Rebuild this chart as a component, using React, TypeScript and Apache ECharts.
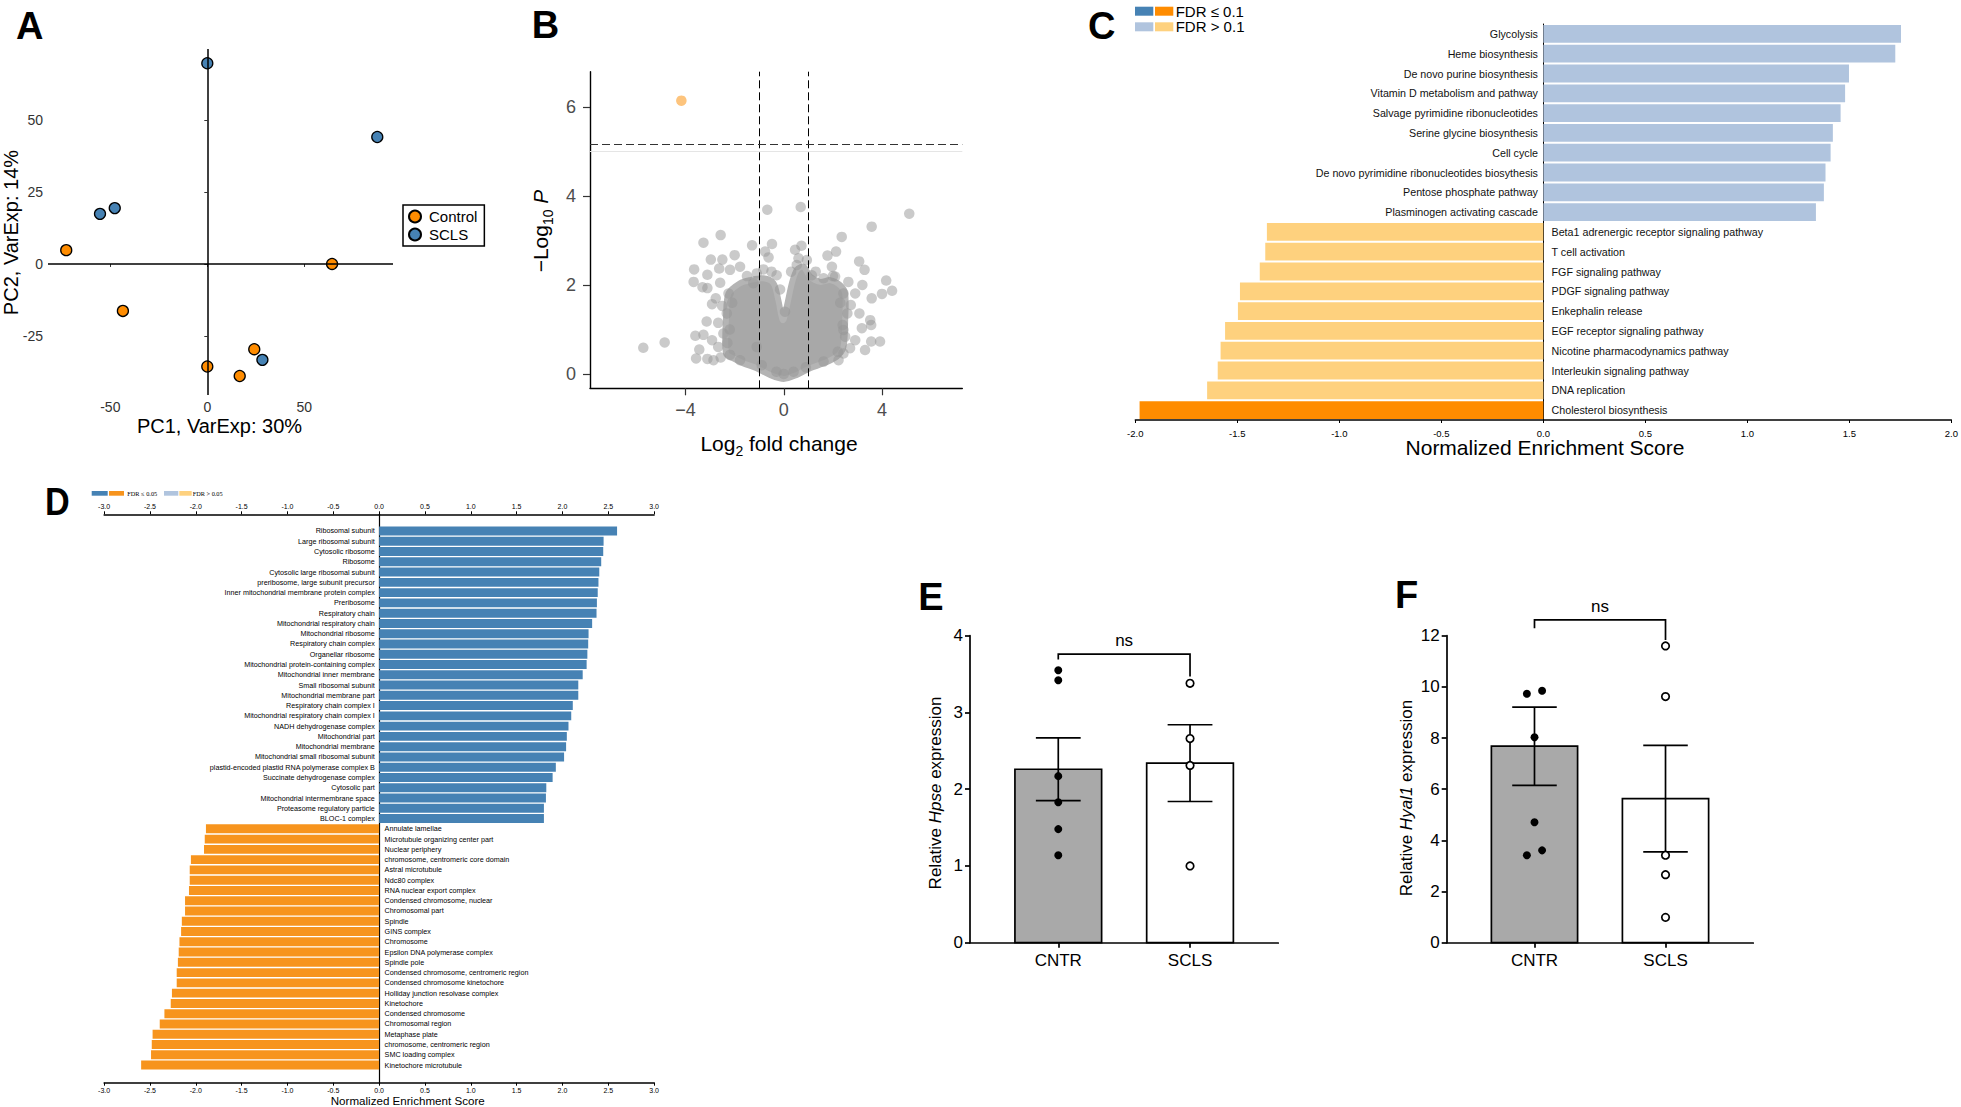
import React, { useEffect, useRef } from "react";
import * as echarts from "echarts";

const FONT = "'Liberation Sans', Arial, Helvetica, sans-serif";
const SERIF = "'Liberation Serif', 'Times New Roman', serif";

// ---------- Panel A : PCA ----------
const pcaControlX = [-72.7, 64.3, -43.5, 0, 16.7, 24.2];
const pcaControlY = [4.8, 0, -16.3, -35.6, -38.9, -29.6];
const pcaSclsX = [0, 87.6, -55.3, -47.7, 28.4];
const pcaSclsY = [69.7, 44.1, 17.4, 19.4, -33.3];
const pcaXTicks = [-50, 0, 50];
const pcaYTicks = [-25, 0, 25, 50];

// ---------- Panel B : volcano ----------
const volcanoX = [
  -5.72, -4.85, -3.27, -2.57, -3.65, -3.67, -2.97, -2.5, -3.11, -3.31, -3.11, -2.92, -3.14, -3.6, -3.27,
  -3.57, -3.11, -3.44, -2.92, -2.67, -2.57, -2.86, -2.63, -2.19, -2.0, -1.78, -2.59, -2.77, -2.51, -2.67,
  -2.46, -1.29, -0.48, -0.67, -0.76, -0.62, -0.83, -0.29, -1.1, -1.24, 0.69, 0.72, 0.46, 0.94, 0.53,
  1.14, 1.62, 1.78, 2.13, 2.36, 1.96, 2.09, 2.63, 2.43, 2.91, 3.07, 3.29, 3.58, 5.11, 4.17,
  4.0, 4.41, 3.58, 3.2, 3.08, 3.52, 3.18, 3.56, 3.92, 3.56, 3.31, 2.91, 2.7, 2.43, 2.23,
  1.62, 2.59, 2.73, 2.43, 2.5, -1.78, -2.19, -2.32, -2.25, -1.1, -2.2, -2.3, -2.1, -1.5, -0.5,
  -0.15, 0.05, 0.3, 0.6, 1.3, 2.0, 2.3, 2.4, 2.2, -0.9, 0.9, 0.0, -0.3, 0.4,
];
const volcanoY = [
  0.59, 0.71, 2.95, 3.12, 2.35, 2.07, 2.57, 2.57, 2.23, 1.95, 1.93, 1.57, 1.18, 0.86, 0.88,
  0.35, 0.34, 0.55, 0.76, 0.61, 0.37, 0.31, 2.37, 2.34, 2.67, 2.41, 2.05, 1.7, 1.53, 1.15,
  0.91, 2.89, 2.92, 3.69, 2.75, 2.62, 2.35, 2.22, 2.26, 2.04, 3.75, 2.88, 2.79, 2.56, 2.45,
  2.22, 2.15, 2.66, 2.75, 3.08, 2.41, 2.19, 2.07, 1.81, 1.81, 2.53, 2.34, 3.31, 3.6, 2.1,
  1.8, 1.87, 1.7, 2.0, 1.36, 1.21, 1.03, 1.1, 0.73, 0.73, 0.54, 0.76, 0.58, 0.46, 0.31,
  0.28, 1.36, 1.55, 0.99, 0.84, 0.31, 0.43, 1.36, 1.81, 0.61, 1.0, 0.7, 1.6, 2.2, 2.3,
  1.9, 1.4, 2.3, 2.6, 2.3, 2.2, 1.6, 1.1, 0.5, 0.2, 0.15, 0.0, 0.05, 0.05,
];
const volcanoCoreX = [
  -2.35, -2.35, -2.25, -1.78, -1.37, -0.83, -0.42, -0.22, -0.04, 0.12, 0.33, 0.53, 0.8, 1.07, 1.48,
  1.89, 2.29, 2.5, 2.5, 2.43, 2.16, 1.62, 1.07, 0.53, 0, -0.56, -1.1, -1.64, -2.05,
];
const volcanoCoreY = [
  0.46, 1.29, 1.81, 2.04, 2.11, 2.15, 2.04, 1.66, 1.21, 1.51, 2.04, 2.34, 2.41, 2.19, 2.07,
  2.11, 2.0, 1.81, 1.21, 0.61, 0.39, 0.24, 0.13, -0.02, -0.11, -0.02, 0.13, 0.24, 0.35,
];
const volcanoSigX = [-4.17];
const volcanoSigY = [6.14];
const volcanoXTicks = [-4, 0, 4];
const volcanoYTicks = [0, 2, 4, 6];
const foldCutoffs = [-1, 1];
const pCutoff = 5.15;
const pGuide = 5;

// ---------- Panel C : pathway NES ----------
const cNames = [
  "Glycolysis",
  "Heme biosynthesis",
  "De novo purine biosynthesis",
  "Vitamin D metabolism and pathway",
  "Salvage pyrimidine ribonucleotides",
  "Serine glycine biosynthesis",
  "Cell cycle",
  "De novo pyrimidine ribonucleotides biosythesis",
  "Pentose phosphate pathway",
  "Plasminogen activating cascade",
  "Beta1 adrenergic receptor signaling pathway",
  "T cell activation",
  "FGF signaling pathway",
  "PDGF signaling pathway",
  "Enkephalin release",
  "EGF receptor signaling pathway",
  "Nicotine pharmacodynamics pathway",
  "Interleukin signaling pathway",
  "DNA replication",
  "Cholesterol biosynthesis",
];
const cValues = [
  1.753, 1.725, 1.498, 1.479, 1.457, 1.419, 1.408, 1.383, 1.375, 1.336,
  -1.355, -1.363, -1.39, -1.487, -1.497, -1.56, -1.582, -1.596, -1.648, -1.979,
];
const cSignificant = [
  false, false, false, false, false, false, false, false, false, false,
  false, false, false, false, false, false, false, false, false, true,
];

// ---------- Panel D : GO NES ----------
const dNames = [
  "Ribosomal subunit",
  "Large ribosomal subunit",
  "Cytosolic ribosome",
  "Ribosome",
  "Cytosolic large ribosomal subunit",
  "preribosome, large subunit precursor",
  "Inner mitochondrial membrane protein complex",
  "Preribosome",
  "Respiratory chain",
  "Mitochondrial respiratory chain",
  "Mitochondrial ribosome",
  "Respiratory chain complex",
  "Organellar ribosome",
  "Mitochondrial protein-containing complex",
  "Mitochondrial inner membrane",
  "Small ribosomal subunit",
  "Mitochondrial membrane part",
  "Respiratory chain complex I",
  "Mitochondrial respiratory chain complex I",
  "NADH dehydrogenase complex",
  "Mitochondrial part",
  "Mitochondrial membrane",
  "Mitochondrial small ribosomal subunit",
  "plastid-encoded plastid RNA polymerase complex B",
  "Succinate dehydrogenase complex",
  "Cytosolic part",
  "Mitochondrial intermembrane space",
  "Proteasome regulatory particle",
  "BLOC-1 complex",
  "Annulate lamellae",
  "Microtubule organizing center part",
  "Nuclear periphery",
  "chromosome, centromeric core domain",
  "Astral microtubule",
  "Ndc80 complex",
  "RNA nuclear export complex",
  "Condensed chromosome, nuclear",
  "Chromosomal part",
  "Spindle",
  "GINS complex",
  "Chromosome",
  "Epsilon DNA polymerase complex",
  "Spindle pole",
  "Condensed chromosome, centromeric region",
  "Condensed chromosome kinetochore",
  "Holliday junction resolvase complex",
  "Kinetochore",
  "Condensed chromosome",
  "Chromosomal region",
  "Metaphase plate",
  "chromosome, centromeric region",
  "SMC loading complex",
  "Kinetochore microtubule",
];
const dValues = [
  2.596, 2.449, 2.445, 2.423, 2.402, 2.393, 2.385, 2.376, 2.372, 2.324, 2.285, 2.281, 2.272, 2.264,
  2.221, 2.173, 2.173, 2.113, 2.096, 2.066, 2.048, 2.04, 2.018, 1.928, 1.893, 1.824, 1.82, 1.798,
  1.798, -1.889, -1.902, -1.91, -2.053, -2.066, -2.066, -2.074, -2.117, -2.117, -2.152, -2.16,
  -2.178, -2.186, -2.195, -2.208, -2.208, -2.26, -2.273, -2.342, -2.393, -2.471, -2.48, -2.488, -2.596,
];

// ---------- Panels E / F : qPCR ----------
const groups = ["CNTR", "SCLS"];
const hpseMean = [2.26, 2.34];
const hpseSem = [0.41, 0.5];
const hpseCntr = [3.55, 3.42, 2.17, 1.83, 1.48, 1.14];
const hpseCntrJitter = [0, 0, 0, 0, 0, 0];
const hpseScls = [3.38, 2.66, 2.31, 1.0];
const hpseBracketX = [0, 0, 1, 1];
const hpseBracketY = [3.69, 3.76, 3.76, 3.47];
const hpseNsY = 3.94;

const hyalMean = [7.68, 5.63];
const hyalSem = [1.53, 2.08];
const hyalCntr = [9.73, 9.85, 8.03, 4.71, 3.42, 3.61];
const hyalCntrJitter = [-0.058, 0.058, 0, 0, -0.058, 0.058];
const hyalScls = [11.6, 9.62, 3.42, 2.66, 0.99];
const hyalBracketX = [0, 0, 1, 1];
const hyalBracketY = [12.29, 12.62, 12.62, 11.83];
const hyalNsY = 13.13;

// ---------- colours ----------
const BLUE = "#4682B4";
const LIGHT_BLUE = "#B0C4DE";
const ORANGE = "#FF8C00";
const LIGHT_ORANGE = "#FED17E";
const D_ORANGE = "#F7941D";

const minusFmt = (v: number) => (v < 0 ? "\u2212" + Math.abs(v) : String(v));

function qpcrSeries(xi: number, yi: number, mean: number[], sem: number[], cntr: number[], cntrJ: number[], scls: number[], bx: number[], by: number[], nsY: number) {
  return [
    {
      type: "custom",
      xAxisIndex: xi,
      yAxisIndex: yi,
      z: 2,
      data: mean.map((m, i) => [i, m]),
      renderItem: (params: any, api: any) => {
        const i = api.value(0);
        const m = api.value(1);
        const base = api.coord([i, 0]);
        const top = api.coord([i, m]);
        const w = api.size([0.658, 0])[0];
        return {
          type: "rect",
          shape: { x: base[0] - w / 2, y: top[1], width: w, height: base[1] - top[1] },
          style: { fill: i === 0 ? "#A9A9A9" : "#FFFFFF", stroke: "#000", lineWidth: 1.7 },
        };
      },
    },
    {
      type: "custom",
      xAxisIndex: xi,
      yAxisIndex: yi,
      z: 3,
      data: mean.map((m, i) => [i, m, sem[i]]),
      renderItem: (params: any, api: any) => {
        const i = api.value(0);
        const m = api.value(1);
        const s = api.value(2);
        const hi = api.coord([i, m + s]);
        const lo = api.coord([i, m - s]);
        const hw = api.size([0.17, 0])[0];
        const st = { stroke: "#000", lineWidth: 1.7 };
        return {
          type: "group",
          children: [
            { type: "line", shape: { x1: hi[0], y1: hi[1], x2: lo[0], y2: lo[1] }, style: st },
            { type: "line", shape: { x1: hi[0] - hw, y1: hi[1], x2: hi[0] + hw, y2: hi[1] }, style: st },
            { type: "line", shape: { x1: lo[0] - hw, y1: lo[1], x2: lo[0] + hw, y2: lo[1] }, style: st },
          ],
        };
      },
    },
    {
      type: "scatter",
      xAxisIndex: xi,
      yAxisIndex: yi,
      z: 4,
      symbolSize: 8,
      itemStyle: { color: "#000", opacity: 1 },
      data: cntr.map((v, k) => [0 + cntrJ[k], v]),
    },
    {
      type: "scatter",
      xAxisIndex: xi,
      yAxisIndex: yi,
      z: 4,
      symbolSize: 7.5,
      itemStyle: { color: "#fff", borderColor: "#000", borderWidth: 1.7, opacity: 1 },
      data: scls.map((v) => [1, v]),
    },
    {
      type: "custom",
      xAxisIndex: xi,
      yAxisIndex: yi,
      z: 4,
      clip: false,
      data: [[0.5, nsY]],
      renderItem: (params: any, api: any) => {
        const pts = bx.map((x, k) => api.coord([x, by[k]]));
        const c = api.coord([api.value(0), api.value(1)]);
        return {
          type: "group",
          children: [
            { type: "polyline", shape: { points: pts }, style: { stroke: "#000", lineWidth: 1.7, fill: null } },
            {
              type: "text",
              x: c[0],
              y: c[1],
              style: { text: "ns", fontSize: 17, fontFamily: FONT, fill: "#000", align: "center", verticalAlign: "middle" },
            },
          ],
        };
      },
    },
  ];
}

function qpcrAxes(gi: number, ymax: number, step: number) {
  const x = {
    gridIndex: gi,
    type: "value",
    min: -0.67,
    max: 1.67,
    axisLine: { show: true, onZero: false, lineStyle: { color: "#000", width: 1.7 } },
    axisTick: { show: true, length: 5, customValues: [0, 1], lineStyle: { color: "#000", width: 1.7 } },
    axisLabel: {
      customValues: [0, 1],
      formatter: (v: number) => groups[Math.round(v)],
      fontSize: 17,
      fontFamily: FONT,
      color: "#000",
      margin: 9,
    },
    splitLine: { show: false },
  };
  const y = {
    gridIndex: gi,
    type: "value",
    min: 0,
    max: ymax,
    interval: step,
    axisLine: { show: true, onZero: false, lineStyle: { color: "#000", width: 1.7 } },
    axisTick: { show: true, length: 5, lineStyle: { color: "#000", width: 1.7 } },
    axisLabel: { fontSize: 17, fontFamily: FONT, color: "#000", margin: 7 },
    splitLine: { show: false },
  };
  return { x, y };
}

function buildOption() {
  const eAx = qpcrAxes(4, 4, 1);
  const fAx = qpcrAxes(5, 12, 2);
  const dAxisCommon = {
    gridIndex: 3,
    type: "value",
    min: -3,
    max: 3,
    interval: 0.5,
    axisLine: { show: true, onZero: false, lineStyle: { color: "#000", width: 1.5 } },
    axisTick: { show: true, length: 3, lineStyle: { color: "#000" } },
    axisLabel: { fontSize: 7, fontFamily: FONT, color: "#000", margin: 4, formatter: (v: number) => v.toFixed(1) },
    splitLine: { show: false },
  };

  const graphic: any[] = [];
  const letter = (t: string, x: number, y: number, sx = 1) =>
    graphic.push({
      type: "text",
      x,
      y,
      scaleX: sx,
      silent: true,
      style: { text: t, fontSize: 38, fontWeight: "bold", fontFamily: FONT, fill: "#000", align: "left", verticalAlign: "middle" },
    });
  letter("A", 16, 25.5);
  letter("B", 531.7, 25);
  letter("C", 1088, 25.5);
  letter("D", 45, 502, 0.9);
  letter("E", 918.3, 596.7);
  letter("F", 1395, 595);

  // Panel A titles
  graphic.push({
    type: "text", x: 219.5, y: 426, silent: true,
    style: { text: "PC1, VarExp: 30%", fontSize: 20, fontFamily: FONT, fill: "#000", align: "center", verticalAlign: "middle" },
  });
  graphic.push({
    type: "text", x: 11, y: 232.5, rotation: Math.PI / 2, silent: true,
    style: { text: "PC2, VarExp: 14%", fontSize: 20, fontFamily: FONT, fill: "#000", align: "center", verticalAlign: "middle" },
  });

  // Panel B titles
  graphic.push({
    type: "text", x: 779, y: 443, silent: true,
    style: {
      text: "{a|Log}{s|2}{a| fold change}",
      align: "center",
      verticalAlign: "middle",
      rich: {
        a: { fontSize: 21, lineHeight: 30, fontFamily: FONT, fill: "#000" },
        s: { fontSize: 14, lineHeight: 14, fontFamily: FONT, fill: "#000", verticalAlign: "bottom" },
      },
    },
  });
  graphic.push({
    type: "text", x: 540, y: 231, rotation: Math.PI / 2, silent: true,
    style: {
      text: "{a|\u2212Log}{s|10}{a| }{i|P}",
      align: "center",
      verticalAlign: "middle",
      rich: {
        a: { fontSize: 21, lineHeight: 30, fontFamily: FONT, fill: "#000" },
        i: { fontSize: 21, lineHeight: 30, fontFamily: FONT, fill: "#000", fontStyle: "italic" },
        s: { fontSize: 14, lineHeight: 14, fontFamily: FONT, fill: "#000", verticalAlign: "bottom" },
      },
    },
  });

  // Panel C legend + title
  const rect = (x: number, y: number, w: number, h: number, fill: string) =>
    graphic.push({ type: "rect", silent: true, shape: { x, y, width: w, height: h }, style: { fill } });
  rect(1135, 6.7, 18.3, 9, BLUE);
  rect(1155, 6.7, 18.3, 9, ORANGE);
  rect(1135, 22.3, 18.3, 9, LIGHT_BLUE);
  rect(1155, 22.3, 18.3, 9, LIGHT_ORANGE);
  graphic.push({
    type: "text", x: 1175.7, y: 11.2, silent: true,
    style: { text: "FDR \u2264 0.1", fontSize: 15, fontFamily: FONT, fill: "#000", align: "left", verticalAlign: "middle" },
  });
  graphic.push({
    type: "text", x: 1175.7, y: 26.9, silent: true,
    style: { text: "FDR > 0.1", fontSize: 15, fontFamily: FONT, fill: "#000", align: "left", verticalAlign: "middle" },
  });
  graphic.push({
    type: "text", x: 1545, y: 447, silent: true,
    style: { text: "Normalized Enrichment Score", fontSize: 21, fontFamily: FONT, fill: "#000", align: "center", verticalAlign: "middle" },
  });

  // Panel D legend + title
  rect(91.7, 491, 16, 4.7, BLUE);
  rect(109, 491, 15, 4.7, D_ORANGE);
  rect(164, 491, 14.3, 4.7, LIGHT_BLUE);
  rect(179.3, 491, 12.4, 4.7, LIGHT_ORANGE);
  graphic.push({
    type: "text", x: 127.3, y: 493.4, silent: true,
    style: { text: "FDR \u2264 0.05", fontSize: 6.3, fontFamily: SERIF, fill: "#000", align: "left", verticalAlign: "middle" },
  });
  graphic.push({
    type: "text", x: 192.7, y: 493.4, silent: true,
    style: { text: "FDR > 0.05", fontSize: 6.3, fontFamily: SERIF, fill: "#000", align: "left", verticalAlign: "middle" },
  });
  graphic.push({
    type: "text", x: 407.7, y: 1100, silent: true,
    style: { text: "Normalized Enrichment Score", fontSize: 11.6, fontFamily: FONT, fill: "#000", align: "center", verticalAlign: "middle" },
  });

  // Panels E/F y titles
  const geneTitle = (gene: string, x: number, y: number) =>
    graphic.push({
      type: "text", x, y, rotation: Math.PI / 2, silent: true,
      style: {
        text: "{a|Relative }{i|" + gene + "}{a| expression}",
        align: "center",
        verticalAlign: "middle",
        rich: {
          a: { fontSize: 17, fontFamily: FONT, fill: "#000" },
          i: { fontSize: 17, fontFamily: FONT, fill: "#000", fontStyle: "italic" },
        },
      },
    });
  geneTitle("Hpse", 935, 793);
  geneTitle("Hyal1", 1406, 798);

  return {
    animation: false,
    backgroundColor: "#fff",
    textStyle: { fontFamily: FONT },
    graphic,
    legend: [
      {
        left: 403,
        top: 205,
        orient: "vertical",
        data: ["Control", "SCLS"],
        selectedMode: false,
        icon: "circle",
        itemWidth: 12,
        itemHeight: 12,
        itemGap: 3,
        padding: [4, 7, 4, 5],
        borderColor: "#000",
        borderWidth: 1.5,
        textStyle: { fontSize: 15, fontFamily: FONT, color: "#000", padding: [0, 0, 0, 3] },
      },
    ],
    grid: [
      { left: 48, top: 49, width: 345, height: 346 },
      { left: 590, top: 71.7, width: 372.3, height: 316.6 },
      { left: 1135.3, top: 24, width: 816.2, height: 396 },
      { left: 104.1, top: 514.3, width: 550, height: 568.4 },
      { left: 970, top: 635.7, width: 308.3, height: 307 },
      { left: 1446.7, top: 635.7, width: 306.6, height: 307 },
    ],
    xAxis: [
      {
        gridIndex: 0, type: "value", min: -82.1, max: 95.7,
        axisLine: { show: false },
        axisTick: { show: true, length: 3, customValues: pcaXTicks, lineStyle: { color: "#333" } },
        axisLabel: { customValues: pcaXTicks, fontSize: 14, fontFamily: FONT, color: "#333", margin: 5 },
        splitLine: { show: false },
      },
      {
        gridIndex: 1, type: "value", min: -7.89, max: 7.27,
        axisLine: { show: true, onZero: false, lineStyle: { color: "#000", width: 1.4 } },
        axisTick: { show: true, length: 7, customValues: volcanoXTicks, lineStyle: { color: "#333", width: 1.2 } },
        axisLabel: { customValues: volcanoXTicks, fontSize: 18, fontFamily: FONT, color: "#4D4D4D", margin: 13, formatter: minusFmt },
        splitLine: { show: false },
      },
      {
        gridIndex: 2, type: "value", min: -2, max: 2, interval: 0.5,
        axisLine: { show: true, onZero: false, lineStyle: { color: "#000", width: 1.5 } },
        axisTick: { show: true, length: 3, lineStyle: { color: "#000" } },
        axisLabel: { fontSize: 9.5, fontFamily: FONT, color: "#000", margin: 8, formatter: (v: number) => v.toFixed(1) },
        splitLine: { show: false },
      },
      { ...dAxisCommon, position: "top" },
      { ...dAxisCommon, position: "bottom" },
      eAx.x,
      fAx.x,
    ],
    yAxis: [
      {
        gridIndex: 0, type: "value", min: -45.5, max: 74.65,
        axisLine: { show: false },
        axisTick: { show: true, length: 3, customValues: pcaYTicks, lineStyle: { color: "#333" } },
        axisLabel: { customValues: pcaYTicks, fontSize: 14, fontFamily: FONT, color: "#333", margin: 5 },
        splitLine: { show: false },
      },
      {
        gridIndex: 1, type: "value", min: -0.32, max: 6.79,
        axisLine: { show: true, onZero: false, lineStyle: { color: "#000", width: 1.4 } },
        axisTick: { show: true, length: 7, customValues: volcanoYTicks, lineStyle: { color: "#333", width: 1.2 } },
        axisLabel: { customValues: volcanoYTicks, fontSize: 18, fontFamily: FONT, color: "#4D4D4D", margin: 14 },
        splitLine: { show: false },
      },
      {
        gridIndex: 2, type: "category", data: cNames, inverse: true,
        axisLine: { show: true, onZero: true, lineStyle: { color: "#000", width: 1 } },
        axisTick: { show: false },
        axisLabel: { show: false },
      },
      {
        gridIndex: 3, type: "value", inverse: true, min: -1.626, max: 53.72,
        axisLine: { show: true, onZero: true, lineStyle: { color: "#000", width: 1.2 } },
        axisTick: { show: false },
        axisLabel: { show: false },
        splitLine: { show: false },
      },
      eAx.y,
      fAx.y,
    ],
    series: [
      // ---- A ----
      {
        type: "scatter", xAxisIndex: 0, yAxisIndex: 0, z: 1, symbolSize: 0, data: [[0, 0]], silent: true,
        markLine: {
          silent: true, symbol: "none", label: { show: false },
          lineStyle: { color: "#000", width: 1.5, type: "solid" },
          data: [{ xAxis: 0 }, { yAxis: 0 }],
        },
      },
      {
        name: "Control", type: "scatter", xAxisIndex: 0, yAxisIndex: 0, z: 3, symbolSize: 11,
        itemStyle: { color: ORANGE, borderColor: "#000", borderWidth: 1.3, opacity: 1 },
        data: pcaControlX.map((x, i) => [x, pcaControlY[i]]),
      },
      {
        name: "SCLS", type: "scatter", xAxisIndex: 0, yAxisIndex: 0, z: 3, symbolSize: 11,
        itemStyle: { color: BLUE, borderColor: "#000", borderWidth: 1.3, opacity: 1 },
        data: pcaSclsX.map((x, i) => [x, pcaSclsY[i]]),
      },
      // ---- B ----
      {
        type: "custom", xAxisIndex: 1, yAxisIndex: 1, z: 2,
        data: volcanoCoreX.map((x, k) => [x, volcanoCoreY[k]]),
        renderItem: (params: any, api: any) => {
          if (params.dataIndex !== 0) return null;
          const pts = volcanoCoreX.map((x, k) => api.coord([x, volcanoCoreY[k]]));
          return {
            type: "polygon",
            shape: { points: pts, smooth: 0.3 },
            style: { fill: "#A8A8A8", stroke: "#B4B4B4", lineWidth: 6, lineJoin: "round" },
          };
        },
      },
      {
        type: "scatter", xAxisIndex: 1, yAxisIndex: 1, z: 3, symbolSize: 10.5,
        itemStyle: { color: "rgba(150,150,150,0.5)", opacity: 1 },
        data: volcanoX.map((x, i) => [x, volcanoY[i]]),
      },
      {
        type: "scatter", xAxisIndex: 1, yAxisIndex: 1, z: 3, symbolSize: 10.5,
        itemStyle: { color: "#FDC47D", opacity: 1 },
        data: volcanoSigX.map((x, i) => [x, volcanoSigY[i]]),
      },
      {
        type: "scatter", xAxisIndex: 1, yAxisIndex: 1, z: 5, symbolSize: 0, data: [[0, 0]], silent: true,
        markLine: {
          silent: true, symbol: "none", label: { show: false },
          lineStyle: { color: "#000", width: 1, type: [8, 4] },
          data: [
            { yAxis: pGuide, lineStyle: { color: "#E5E5E5", width: 1, type: "solid" } },
            { xAxis: foldCutoffs[0] },
            { xAxis: foldCutoffs[1] },
            { yAxis: pCutoff, lineStyle: { color: "#333", width: 1, type: [8, 4] } },
          ],
        },
      },
      // ---- C ----
      {
        type: "bar", xAxisIndex: 2, yAxisIndex: 2, z: 2, barCategoryGap: "10%",
        data: cValues.map((v, i) => ({
          value: v,
          itemStyle: { color: v > 0 ? (cSignificant[i] ? BLUE : LIGHT_BLUE) : cSignificant[i] ? ORANGE : LIGHT_ORANGE },
        })),
      },
      {
        type: "custom", xAxisIndex: 2, yAxisIndex: 2, z: 3,
        data: cValues.map((v, i) => [v, i]),
        renderItem: (params: any, api: any) => {
          const i = params.dataIndex;
          const v = cValues[i];
          const p = api.coord([0, i]);
          return {
            type: "text",
            x: p[0] + (v > 0 ? -5.4 : 8.2),
            y: p[1],
            style: {
              text: cNames[i], fontSize: 10.7, fontFamily: FONT, fill: "#111",
              align: v > 0 ? "right" : "left", verticalAlign: "middle",
            },
          };
        },
      },
      // ---- D ----
      {
        type: "custom", xAxisIndex: 3, yAxisIndex: 3, z: 2,
        data: dValues.map((v, i) => [v, i]),
        renderItem: (params: any, api: any) => {
          const i = params.dataIndex;
          const v = dValues[i];
          const p0 = api.coord([0, i]);
          const p1 = api.coord([v, i]);
          const h = api.size([0, 0.87])[1];
          const pos = v > 0;
          return {
            type: "group",
            children: [
              {
                type: "rect",
                shape: { x: Math.min(p0[0], p1[0]), y: p0[1] - h / 2, width: Math.abs(p1[0] - p0[0]), height: h },
                style: { fill: pos ? BLUE : D_ORANGE },
              },
              {
                type: "text",
                x: p0[0] + (pos ? -4.3 : 5.5),
                y: p0[1],
                style: {
                  text: dNames[i], fontSize: 7.2, fontFamily: FONT, fill: "#000",
                  align: pos ? "right" : "left", verticalAlign: "middle",
                },
              },
            ],
          };
        },
      },
      // ---- E ----
      ...qpcrSeries(5, 4, hpseMean, hpseSem, hpseCntr, hpseCntrJitter, hpseScls, hpseBracketX, hpseBracketY, hpseNsY),
      // ---- F ----
      ...qpcrSeries(6, 5, hyalMean, hyalSem, hyalCntr, hyalCntrJitter, hyalScls, hyalBracketX, hyalBracketY, hyalNsY),
    ],
  };
}

export default function App() {
  const ref = useRef<HTMLDivElement>(null);
  useEffect(() => {
    document.body.style.margin = "0";
    const chart = echarts.init(ref.current as HTMLDivElement, null, { renderer: "svg" });
    chart.setOption(buildOption() as any);
    return () => chart.dispose();
  }, []);
  return <div ref={ref} style={{ width: 1961, height: 1107, background: "#fff" }} />;
}
